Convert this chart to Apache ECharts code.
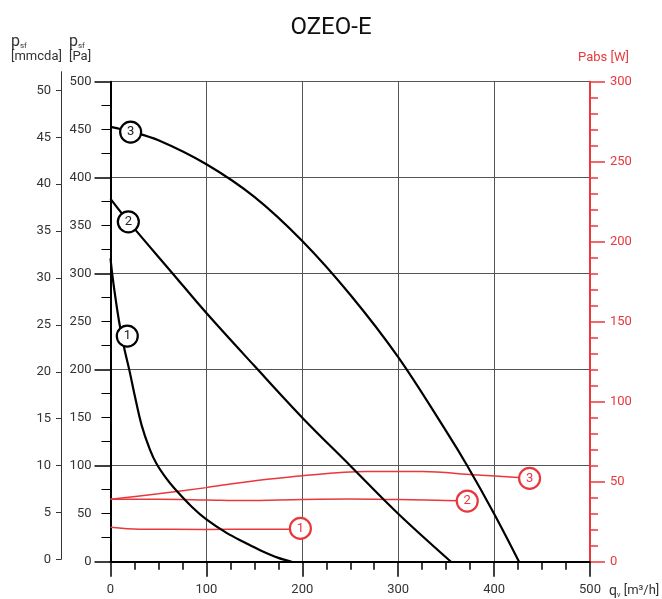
<!DOCTYPE html>
<html>
<head>
<meta charset="utf-8">
<script src="https://cdn.jsdelivr.net/npm/echarts@6/dist/echarts.min.js"></script>
<style>html,body{margin:0;padding:0;background:#fff}#c{width:662px;height:599px}</style>
</head>
<body>
<div id="c"></div>
<script>
// Pressure curves [q (m3/h), psf (Pa)]
const curve1 = [[0,316],[2,298],[5,276],[9,250],[14,224],[20,198],[25.5,172],[32.5,142],[41,117],[48,102],[58,87],[67,76],[85,57],[100,44],[121,30],[140,20],[156,12],[175,4],[189,0]];
const curve2 = [[0,378],[19,354],[65,300],[100,259],[150,204],[200,150],[250,100],[300,50],[355,0]];
const curve3 = [[0,453],[21,448],[50,439],[100,414],[150,380],[200,334],[250,278],[300,213],[350,136],[372,100],[400,50],[426,0]];
// Absorbed power curves [q (m3/h), Pabs (W)]
const power1 = [[0,21.5],[30,20.3],[100,20.2],[150,20.3],[198,20.3]];
const power2 = [[0,39],[50,39],[100,38.6],[140,38.2],[200,38.9],[250,39.2],[300,38.8],[372,38]];
const power3 = [[0,39],[50,42.5],[100,46.3],[135,49.4],[200,53.7],[267,56.3],[325,56.3],[378,54.4],[437,52.1]];
// Curve label markers
const pressureLabels = [{name:'1', value:[17.5,235]},{name:'2', value:[18.6,354]},{name:'3', value:[21,447.5]}];
const powerLabels = [{name:'1', value:[198,20.8]},{name:'2', value:[372,37.9]},{name:'3', value:[437,52.1]}];
// Ticks
const mmcdaTicks = [0,5,10,15,20,25,30,35,40,45,50];

const RED = '#e8383d';
const FONT = 'Roboto';
const chart = echarts.init(document.getElementById('c'));
const lbl = {color:'#333', fontSize:13, fontFamily:FONT};

chart.setOption({
  animation:false,
  title:{text:'OZEO-E', left:'center', top:11, textStyle:{fontSize:24, fontWeight:'normal', color:'#111', fontFamily:FONT}},
  grid:[
    {left:110.5, right:72, top:81.7, bottom:37.3},
    {left:61, width:5, top:71.7, bottom:39.7}
  ],
  xAxis:[
    {type:'value', gridIndex:0, min:0, max:500, interval:100,
     axisLine:{lineStyle:{color:'#000', width:2}},
     axisTick:{length:15, lineStyle:{color:'#000', width:1.5}},
     minorTick:{show:true, splitNumber:4, length:8, lineStyle:{color:'#000', width:1.5}},
     splitLine:{show:true, lineStyle:{color:'#555', width:1}},
     axisLabel:Object.assign({margin:22}, lbl)},
    {type:'value', gridIndex:1, show:false}
  ],
  yAxis:[
    {type:'value', gridIndex:0, position:'left', min:0, max:500, interval:100,
     axisLine:{show:true, lineStyle:{color:'#000', width:2}},
     axisTick:{show:true, length:16, lineStyle:{color:'#000', width:1.5}},
     minorTick:{show:true, splitNumber:4, length:9, lineStyle:{color:'#000', width:1}},
     splitLine:{show:true, lineStyle:{color:'#555', width:1}},
     axisLabel:{show:false}},
    {type:'value', gridIndex:0, position:'left', min:0, max:500, interval:50,
     axisLine:{show:false}, axisTick:{show:false}, splitLine:{show:false},
     axisLabel:Object.assign({margin:19}, lbl)},
    {type:'value', gridIndex:0, position:'right', min:0, max:300, interval:50,
     axisLine:{show:true, lineStyle:{color:RED, width:2}},
     axisTick:{show:true, length:15, lineStyle:{color:RED, width:1.5}},
     minorTick:{show:true, splitNumber:5, length:8, lineStyle:{color:RED, width:1.5}},
     splitLine:{show:false},
     axisLabel:{margin:20, color:RED, fontSize:13, fontFamily:FONT}},
    {type:'value', gridIndex:1, position:'left', min:0, max:52,
     axisLine:{show:true, lineStyle:{color:'#333', width:1}},
     axisTick:{show:true, length:5, customValues:mmcdaTicks, lineStyle:{color:'#333'}},
     splitLine:{show:false},
     axisLabel:Object.assign({margin:10, customValues:mmcdaTicks}, lbl)}
  ],
  graphic:[
    {type:'text', left:11, top:34, style:{text:'{p|p}{s|sf}\n{b|[mmcda]}', rich:{p:{fontSize:16, fontFamily:FONT, fill:'#333', lineHeight:16}, s:{fontSize:8, fontFamily:FONT, fill:'#333', verticalAlign:'bottom', padding:[6,0,0,0]}, b:{fontSize:13, fontFamily:FONT, fill:'#333', lineHeight:13}}}},
    {type:'text', left:69, top:34, style:{text:'{p|p}{s|sf}\n{b|[Pa]}', rich:{p:{fontSize:16, fontFamily:FONT, fill:'#333', lineHeight:16}, s:{fontSize:8, fontFamily:FONT, fill:'#333', verticalAlign:'bottom', padding:[6,0,0,0]}, b:{fontSize:13, fontFamily:FONT, fill:'#333', lineHeight:13}}}},
    {type:'text', left:578, top:51, style:{text:'Pabs [W]', fill:RED, fontSize:13, fontFamily:FONT}},
    {type:'text', left:609, top:584, style:{text:'{q|q}{s|v} {b|[m³/h]}', rich:{q:{fontSize:14, fontFamily:FONT, fill:'#333'}, s:{fontSize:7, fontFamily:FONT, fill:'#333', padding:[8,0,0,0]}, b:{fontSize:13, fontFamily:FONT, fill:'#333'}}}}
  ],
  series:[
    {type:'line', xAxisIndex:0, yAxisIndex:0, data:curve1, showSymbol:false, smooth:0.35, lineStyle:{color:'#000', width:2.2}, z:5},
    {type:'line', xAxisIndex:0, yAxisIndex:0, data:curve2, showSymbol:false, smooth:0.35, lineStyle:{color:'#000', width:2.2}, z:5},
    {type:'line', xAxisIndex:0, yAxisIndex:0, data:curve3, showSymbol:false, smooth:0.35, lineStyle:{color:'#000', width:2.2}, z:5},
    {type:'line', xAxisIndex:0, yAxisIndex:2, data:power1, showSymbol:false, smooth:0.35, lineStyle:{color:RED, width:1.5}, z:4},
    {type:'line', xAxisIndex:0, yAxisIndex:2, data:power2, showSymbol:false, smooth:0.35, lineStyle:{color:RED, width:1.5}, z:4},
    {type:'line', xAxisIndex:0, yAxisIndex:2, data:power3, showSymbol:false, smooth:0.35, lineStyle:{color:RED, width:1.5}, z:4},
    {type:'scatter', xAxisIndex:0, yAxisIndex:0, data:pressureLabels, symbolSize:21, z:10,
     itemStyle:{color:'#fff', borderColor:'#000', borderWidth:2.2, opacity:1},
     label:{show:true, position:'inside', formatter:'{b}', color:'#222', fontSize:13, fontFamily:FONT}},
    {type:'scatter', xAxisIndex:0, yAxisIndex:2, data:powerLabels, symbolSize:21, z:10,
     itemStyle:{color:'#fff', borderColor:RED, borderWidth:2.2, opacity:1},
     label:{show:true, position:'inside', formatter:'{b}', color:RED, fontSize:13, fontFamily:FONT}}
  ]
});
</script>
</body>
</html>
